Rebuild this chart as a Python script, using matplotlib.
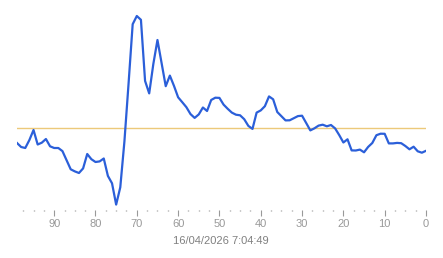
import numpy as np
import matplotlib
matplotlib.use("Agg")
import matplotlib.pyplot as plt
from matplotlib.ticker import MultipleLocator

# seconds ago (99 -> 0) and the deviation from the reference level
seconds_ago = list(range(99, -1, -1))
values = [
    -15, -19, -20, -12, -2, -16.5, -14.7, -11, -18.3, -20,
    -20, -23.1, -32.2, -41.3, -43.4, -45, -40.4, -26, -31.2, -34,
    -33.4, -30.5, -47.9, -55.3, -76.6, -59.3, -13.5, 44.2, 103.8, 112,
    108.2, 47.1, 34.6, 64, 88, 64.9, 41.8, 52.4, 42.1, 30.7,
    25.8, 20.8, 13.9, 10.1, 13.6, 20.5, 17, 28, 30.3, 30.1,
    23.4, 19.2, 15.4, 13.3, 12.7, 8.8, 2.1, -0.9, 15.4, 17.6,
    21.8, 31.6, 28.7, 16, 11.8, 7.6, 7.7, 9.8, 11.9, 12.3,
    5, -2.4, -0.3, 2.4, 3.3, 1.7, 3, -0.4, -7.1, -14.5,
    -11.3, -22.4, -22.5, -21.6, -24.3, -18.9, -15, -7.2, -5.7, -5.8,
    -15.4, -15.4, -14.9, -15.2, -18, -21.3, -18.7, -23.3, -24.7, -22.8,
]
reference_level = 0
timestamp = "16/04/2026 7:04:49"
major_ticks = [90, 80, 70, 60, 50, 40, 30, 20, 10, 0]

W, H = 443, 258
fig = plt.figure(figsize=(W / 100, H / 100), dpi=100)
ax = fig.add_axes([17 / W, 1 - 210 / H, (426 - 17) / W, (210 - 5) / H])

ax.axhline(reference_level, color="#ecc97a", lw=1.0, zorder=1)
ax.plot(seconds_ago, values, color="#2b5fd9", lw=1.6, zorder=2,
        solid_joinstyle="round")

ax.set_xlim(99, 0)
ax.set_ylim(-82, 123)
ax.set_xticks(major_ticks)
ax.xaxis.set_minor_locator(MultipleLocator(2.5))
ax.set_yticks([])
for s in ax.spines.values():
    s.set_visible(False)
ax.tick_params(axis="x", which="major", direction="out", length=4.5,
               width=0.8, color="#999999", labelsize=8, labelcolor="#999999",
               pad=2)
ax.tick_params(axis="x", which="minor", direction="out", length=1,
               width=1, color="#999999")
for lbl in ax.get_xticklabels():
    lbl.set_fontfamily("Liberation Sans")

fig.text(221 / W, 1 - 241 / H, timestamp, ha="center", va="center",
         fontsize=8, color="#808080", family="Liberation Sans")

fig.savefig("out.png", dpi=100)
